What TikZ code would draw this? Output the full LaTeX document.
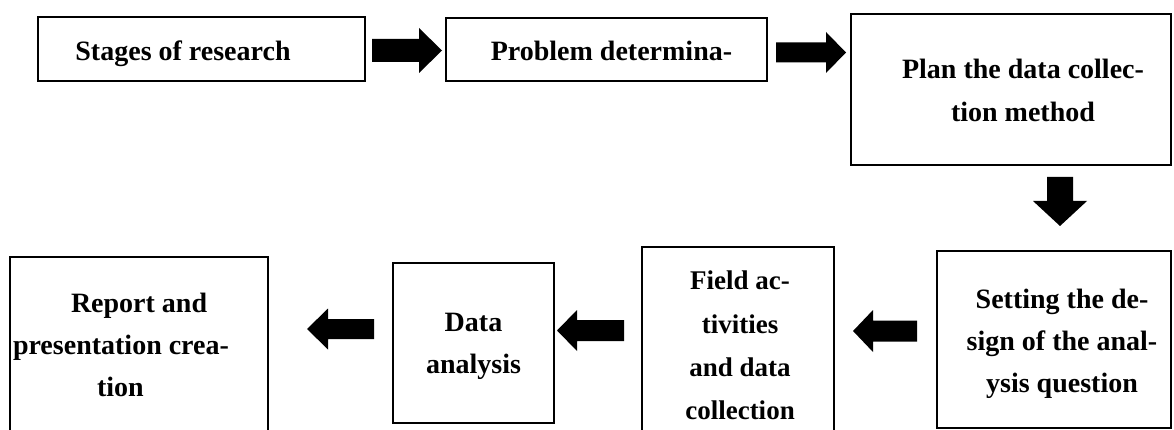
\documentclass[tikz,border=0pt]{standalone}
\usepackage{fontspec}
\setmainfont{Liberation Serif}
\usetikzlibrary{calc}
\begin{document}
\begin{tikzpicture}[x=1pt,y=-1pt,
  box/.style={draw=black, line width=2pt, inner sep=0pt, outer sep=0pt},
  lbl/.style={inner sep=0pt, outer sep=0pt, align=center, font=\bfseries\fontsize{28}{42}\selectfont},
  lblt/.style={inner sep=0pt, outer sep=0pt, align=center, font=\bfseries\fontsize{27}{43.3}\selectfont},
  blockarrow/.style n args={3}{fill=black, draw=none, to path={
    ($(\tikztostart)!#1!90:(\tikztotarget)$) --
    ($(\tikztotarget)!#3!(\tikztostart)!#1!90:(\tikztotarget)$) --
    ($(\tikztotarget)!#3!(\tikztostart)!#2!90:(\tikztotarget)$) --
    (\tikztotarget) --
    ($(\tikztotarget)!#3!(\tikztostart)!#2!-90:(\tikztotarget)$) --
    ($(\tikztotarget)!#3!(\tikztostart)!#1!-90:(\tikztotarget)$) --
    ($(\tikztostart)!#1!-90:(\tikztotarget)$) -- cycle}}
]
\useasboundingbox (0,0) rectangle (1174,430);
\clip (0,0) rectangle (1174,430);

% boxes
\node[box, minimum width=327pt, minimum height=64pt] (stages) at (201.5,49) {};
\node[box, minimum width=321pt, minimum height=63pt] (problem) at (606.5,49.5) {};
\node[box, minimum width=320pt, minimum height=151pt] (plan) at (1011,89.5) {};
\node[box, minimum width=234pt, minimum height=177pt] (setting) at (1054,339.5) {};
\node[box, minimum width=192pt, minimum height=193pt] (field) at (738,343.5) {};
\node[box, minimum width=161pt, minimum height=160pt] (data) at (473.5,343) {};
\node[box, minimum width=258pt, minimum height=183pt] (report) at (139,348.5) {};

% texts
\node[lbl, anchor=base] (tstages) at (183,61) {Stages of research};
\node[lbl, anchor=base] (tproblem) at (611.5,61) {Problem determina-};
\node[lbl, font=\bfseries\fontsize{28}{43}\selectfont] (tplan) at (1023,90.75) {Plan the data collec-\\tion method};
\node[lbl] (tsetting) at (1062,343.75) {Setting the de-\\sign of the anal-\\ysis question};
\node[lblt] (tfield) at (740,345.7) {Field ac-\\tivities\\and data\\collection};
\node[lbl] (tdata) at (473.5,346.25) {Data\\analysis};
\node[lbl, align=left, anchor=west] (treport) at (13,345.25) {\hspace*{58pt}Report and\\presentation crea-\\\hspace*{84pt}tion};

% block arrows
\coordinate (a1s) at (372,50.5);   \coordinate (a1t) at (442,50.5);
\coordinate (a2s) at (776,52.5);   \coordinate (a2t) at (846,52.5);
\coordinate (a3s) at (1060,177);   \coordinate (a3t) at (1060,226);
\coordinate (a4s) at (374,329);    \coordinate (a4t) at (307,329);
\coordinate (a5s) at (624,330.5);  \coordinate (a5t) at (557,330.5);
\coordinate (a6s) at (917,331);    \coordinate (a6t) at (853,331);
\path[blockarrow={11.5pt}{22.5pt}{23pt}] (a1s) to (a1t);
\path[blockarrow={10pt}{20.5pt}{20pt}] (a2s) to (a2t);
\path[blockarrow={13pt}{27pt}{25pt}] (a3s) to (a3t);
\path[blockarrow={10pt}{20.5pt}{21pt}] (a4s) to (a4t);
\path[blockarrow={10.5pt}{20.5pt}{20pt}] (a5s) to (a5t);
\path[blockarrow={10.5pt}{21pt}{20pt}] (a6s) to (a6t);
\end{tikzpicture}
\end{document}
